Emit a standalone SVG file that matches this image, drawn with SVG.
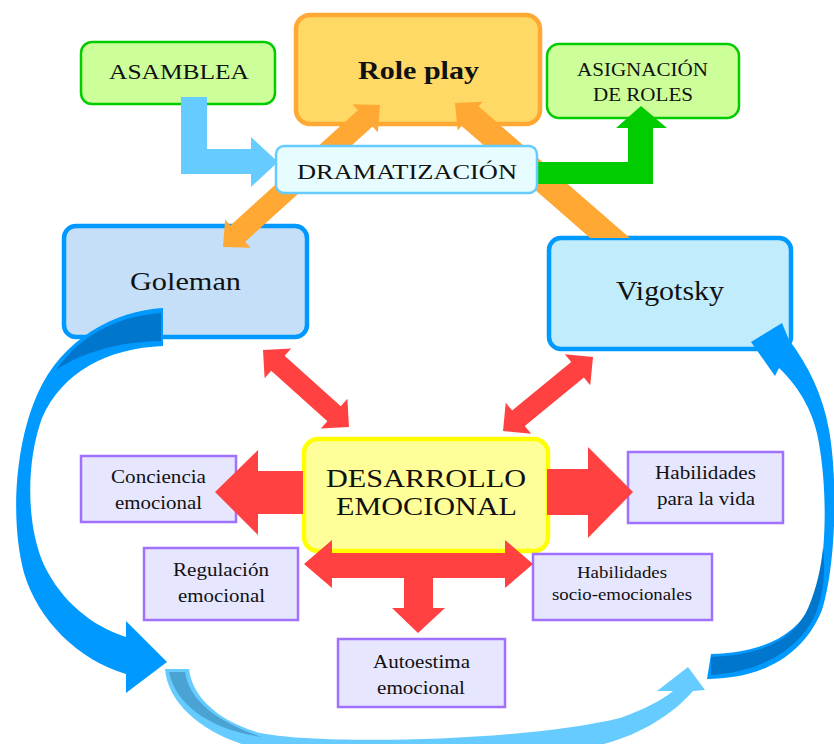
<svg xmlns="http://www.w3.org/2000/svg" width="834" height="744" viewBox="0 0 834 744">
<style>
  text { font-family: "Liberation Serif", "Times New Roman", serif; fill: #111; }
  .big { font-size: 26px; }
  .mid { font-size: 22px; }
  .sm { font-size: 18.5px; }
  .xs { font-size: 16px; }
  .green { fill: #CCFF99; stroke: #00CC00; stroke-width: 2.5; }
  .purple { fill: #E6E6FF; stroke: #A070FF; stroke-width: 2.5; }
  .theory { stroke: #0099FF; stroke-width: 4.5; }
  .red { fill: #FF4141; }
  .orange { fill: #FFA833; }
</style>
<rect width="834" height="744" fill="#FFFFFF"/>

<g id="node-roleplay">
  <rect x="296" y="15" width="244" height="109" rx="14" fill="#FFD966" stroke="#FFA833" stroke-width="4.5"/>
  <text x="358" y="79" font-size="26" font-weight="bold" textLength="121" lengthAdjust="spacingAndGlyphs">Role play</text>
</g>
<g id="node-asamblea">
  <rect class="green" x="81" y="42" width="194" height="62" rx="11"/>
  <text class="mid" x="109" y="79" textLength="140" lengthAdjust="spacingAndGlyphs">ASAMBLEA</text>
</g>
<g id="node-asignacion">
  <rect class="green" x="547" y="44" width="192" height="74" rx="12"/>
  <text x="577" y="76" font-size="19" textLength="131" lengthAdjust="spacingAndGlyphs">ASIGNACIÓN</text>
  <text x="593" y="101" font-size="19" textLength="100" lengthAdjust="spacingAndGlyphs">DE ROLES</text>
</g>
<g id="node-goleman">
  <rect class="theory" x="64" y="226" width="243" height="111" rx="12" fill="#C5DFF9"/>
  <text class="big" x="130" y="290" textLength="111" lengthAdjust="spacingAndGlyphs">Goleman</text>
</g>
<g id="node-vigotsky">
  <rect class="theory" x="549" y="238" width="242" height="111" rx="12" fill="#C0ECFC"/>
  <text x="616" y="300" font-size="27" textLength="108" lengthAdjust="spacingAndGlyphs">Vigotsky</text>
</g>
<g id="node-desarrollo">
  <rect x="304" y="439" width="244" height="112" rx="14" fill="#FFFF99" stroke="#FFFF00" stroke-width="4.5"/>
  <text x="326" y="487" font-size="25" textLength="200" lengthAdjust="spacingAndGlyphs">DESARROLLO</text>
  <text x="336" y="515" font-size="25" textLength="181" lengthAdjust="spacingAndGlyphs">EMOCIONAL</text>
</g>
<g id="node-conciencia">
  <rect class="purple" x="81" y="456" width="155" height="66"/>
  <text class="sm" x="111" y="483" textLength="95" lengthAdjust="spacingAndGlyphs">Conciencia</text>
  <text class="sm" x="115" y="509" textLength="87" lengthAdjust="spacingAndGlyphs">emocional</text>
</g>
<g id="node-regulacion">
  <rect class="purple" x="144" y="548" width="154" height="72"/>
  <text class="sm" x="173" y="576" textLength="96" lengthAdjust="spacingAndGlyphs">Regulación</text>
  <text class="sm" x="178" y="602" textLength="87" lengthAdjust="spacingAndGlyphs">emocional</text>
</g>
<g id="node-autoestima">
  <rect class="purple" x="338" y="639" width="167" height="68"/>
  <text class="sm" x="373" y="668" textLength="97" lengthAdjust="spacingAndGlyphs">Autoestima</text>
  <text class="sm" x="377" y="694" textLength="88" lengthAdjust="spacingAndGlyphs">emocional</text>
</g>
<g id="node-habilidades-vida">
  <rect class="purple" x="628" y="452" width="155" height="71"/>
  <text class="sm" x="655" y="479" textLength="101" lengthAdjust="spacingAndGlyphs">Habilidades</text>
  <text class="sm" x="657" y="505" textLength="98" lengthAdjust="spacingAndGlyphs">para la vida</text>
</g>
<g id="node-habilidades-socio">
  <rect class="purple" x="533" y="554" width="179" height="66"/>
  <text class="xs" x="577" y="578" textLength="90" lengthAdjust="spacingAndGlyphs">Habilidades</text>
  <text class="xs" x="552" y="600" textLength="140" lengthAdjust="spacingAndGlyphs">socio-emocionales</text>
</g>

<g id="connectors">
  <!-- orange: Goleman <-> Role play (through Dramatizacion) -->
  <polygon class="orange" points="223,247 250.5,247.7 245.2,241.8 372.6,126.6 377.9,132.5 380,105 352.5,104.3 357.8,110.2 230.4,225.4 225.1,219.5"/>
  <!-- orange: Vigotsky -> Role play -->
  <polygon class="orange" points="455,103 482.6,101.8 478.6,106.3 629.8,238 590.2,238 461.6,125.9 457.6,130.4"/>
  <!-- light blue L: Asamblea -> Dramatizacion -->
  <polygon fill="#66CCFF" points="181,97 207,97 207,149 251,149 251,137 278,162 251,187 251,174 181,174"/>
  <!-- green L: Dramatizacion -> Asignacion -->
  <polygon fill="#00CC00" points="522,162 628,162 628,128 616,128 641,106 667,128 653,128 653,184 522,184"/>
  <!-- red double arrows theories <-> desarrollo -->
  <polygon class="red" points="263,350 291.2,348.4 284.6,355.85 340.8,406.3 347.4,398.8 349,427 320.8,428.6 327.4,421.2 271.2,370.75 264.6,378.2"/>
  <polygon class="red" points="593,357 564.85,354.25 571.2,362 512.1,410.6 505.75,402.85 503,431 531.15,433.75 524.8,426 583.9,377.4 590.25,385.15"/>
  <!-- red: desarrollo -> conciencia -->
  <polygon class="red" points="303,471 258,471 258,450 215,492 258,535 258,514 303,514"/>
  <!-- red: desarrollo -> habilidades vida -->
  <polygon class="red" points="547,469 588,469 588,447 633,492 588,538 588,515 547,515"/>
  <!-- red: regulacion <-> socio, down to autoestima -->
  <polygon class="red" points="304,564 332,540 332,553 505,553 505,540 533,564 505,588 505,578 433,578 433,608 445,608 418,633 392,608 404,608 404,578 332,578 332,588"/>
  <!-- big blue curve left (Goleman -> down) -->
  <path fill="#0099FF" d="M163,308 C115,311 62,338 37,395 C15,445 10,520 24,573 C38,620 78,660 126,674 L126,693 L167,662 L126,621 L126,637 C92,626 62,602 44,565 C26,525 26,462 42,418 C62,372 108,348 163,346 Z"/>
  <path fill="#0077CC" d="M161,313 C118,316 80,335 56,370 C85,351 120,342 161,341 Z"/>
  <!-- light blue curve bottom -->
  <path fill="#66CCFF" d="M165,669 L189,669 C192,695 215,720 260,733 C320,745 520,742 620,718 C645,709 662,700 673,691 L657,691 L688,667 L705,690 L693,691 C672,715 640,735 600,745 C520,765 330,765 255,748 C205,735 168,705 165,669 Z"/>
  <path fill="#4AA3D3" d="M169,672 L185,672 C189,698 212,720 262,737 C212,730 176,706 169,672 Z"/>
  <!-- big blue curve right (up to Vigotsky) -->
  <path fill="#0099FF" d="M707,679 C750,679 800,664 822,610 C836,565 838,480 829,430 C823,395 808,365 789,340 L782,323 L751,342 L775,376 L779,368 C800,388 816,415 820,450 C828,500 826,570 812,603 C796,638 758,653 711,654 Z"/>
  <path fill="#0077CC" d="M711,657 C758,656 795,641 809,606 C817,587 821,567 823,548 C826,572 823,595 816,613 C800,650 760,672 711,675 Z"/>
</g>

<g id="node-dramatizacion">
  <rect x="276" y="146" width="261" height="47" rx="8" fill="#E6FCFF" stroke="#66CCFF" stroke-width="2.5"/>
  <text x="297" y="179" font-size="22" textLength="220" lengthAdjust="spacingAndGlyphs">DRAMATIZACIÓN</text>
</g>
</svg>
